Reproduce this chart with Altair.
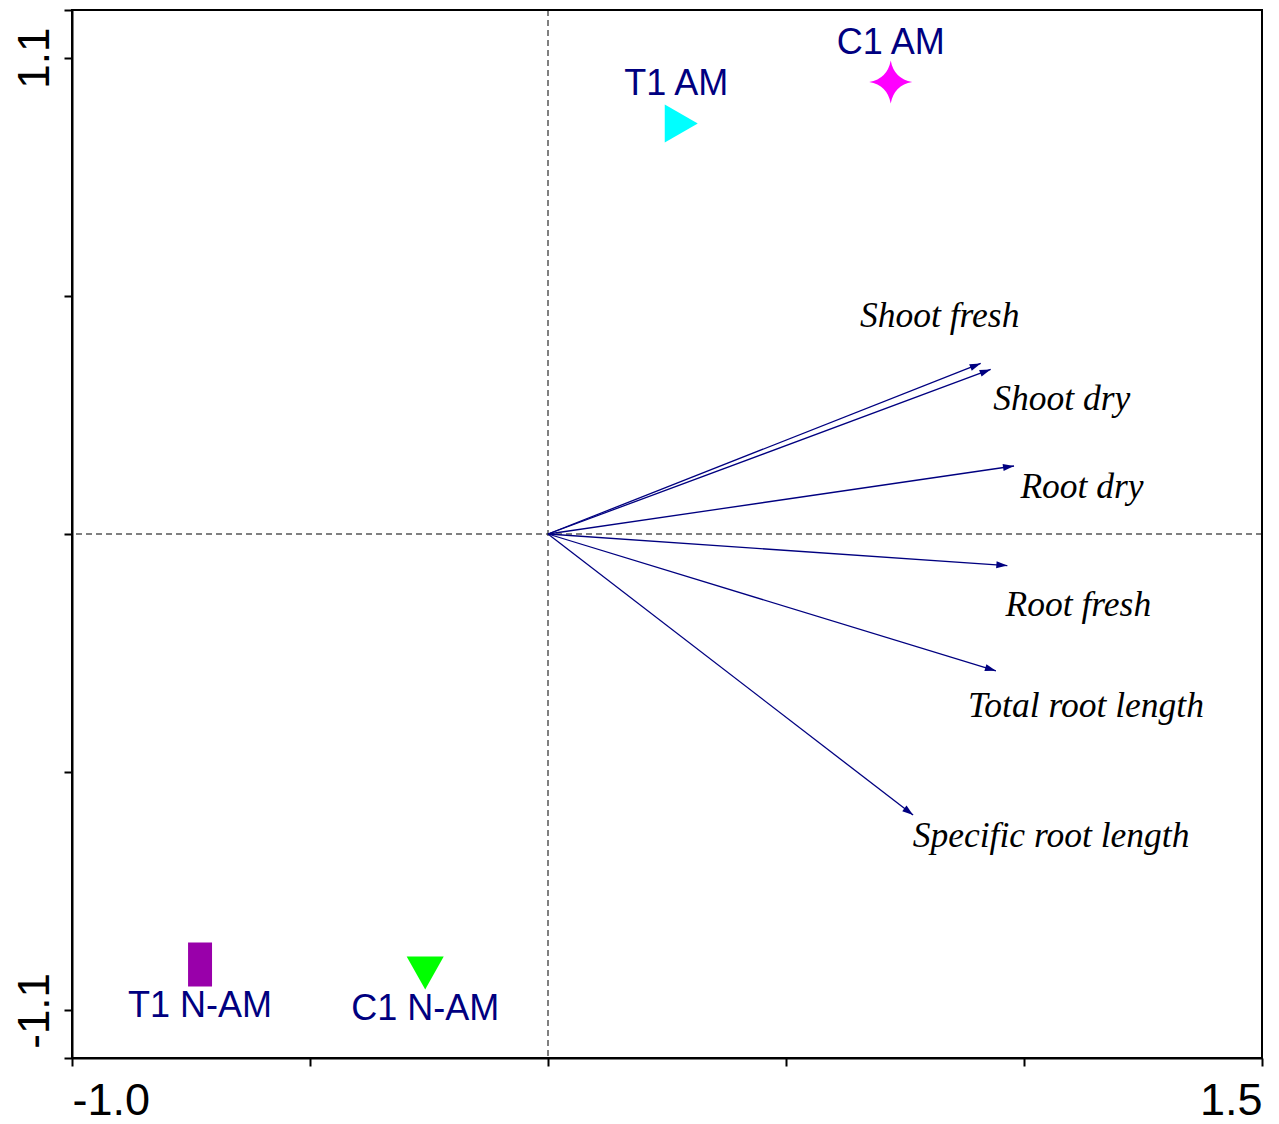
import math
import altair as alt
import pandas as pd

# ---------------- data ----------------
treatments = ["C1 AM", "T1 AM", "T1 N-AM", "C1 N-AM"]
treat_x = [0.720, 0.280, -0.731, -0.258]
treat_y = [1.044, 0.948, -0.994, -1.014]

variables = ["Shoot fresh", "Shoot dry", "Root dry", "Root fresh",
             "Total root length", "Specific root length"]
var_x = [0.909, 0.930, 0.979, 0.965, 0.941, 0.767]
var_y = [0.394, 0.380, 0.157, -0.073, -0.316, -0.649]

x_ticks = [-1.0, -0.5, 0.0, 0.5, 1.0, 1.5]
x_labeled = [-1.0, 1.5]
y_ticks = [-1.21, -1.1, -0.55, 0.0, 0.55, 1.1, 1.21]
y_labeled = [-1.1, 1.1]

X_DOMAIN = [-1.0, 1.5]
Y_DOMAIN = [-1.21, 1.21]

# ---------------- layout / style ----------------
W, H = 1190, 1048
NAVY = "#000080"
NBSP = "\u00a0"
sx = W / (X_DOMAIN[1] - X_DOMAIN[0])
sy = H / (Y_DOMAIN[1] - Y_DOMAIN[0])

treat_colors = ["#FF00FF", "#00FFFF", "#9900AA", "#00FF00"]
treat_shapes = [
    "M0,-0.977Q0.15,-0.15 0.977,0Q0.15,0.15 0,0.977Q-0.15,0.15 -0.977,0Q-0.15,-0.15 0,-0.977Z",
    "M-0.75,-0.864L0.75,0L-0.75,0.864Z",
    "M-0.545,-1L0.545,-1L0.545,1L-0.545,1Z",
    "M-0.841,-0.75L0.841,-0.75L0,0.75Z",
]
treat_label_offset = {
    "C1 AM": (0, -28),
    "T1 AM": (-5, -28),
    "T1 N-AM": (0, 53),
    "C1 N-AM": (0, 47),
}
var_label_offset = {
    "Shoot fresh": (-41, -36),
    "Shoot dry": (71, 41),
    "Root dry": (68, 32),
    "Root fresh": (71, 50),
    "Total root length": (90, 46),
    "Specific root length": (138, 32),
}

treat_df = pd.DataFrame({"name": treatments, "x": treat_x, "y": treat_y})
var_df = pd.DataFrame({"name": variables, "x": var_x, "y": var_y})
var_df["x0"] = 0.0
var_df["y0"] = 0.0
var_df["angle"] = [
    (math.degrees(math.atan2(vx * sx, vy * sy)) + 360.0) % 360.0
    for vx, vy in zip(var_x, var_y)
]
zero_df = pd.DataFrame({"z": [0.0]})


def lab_expr(vals, pad_positive=False):
    cond = " || ".join(f"datum.value == {v}" for v in vals)
    pos = f"'{NBSP}'" if pad_positive else "''"
    return (f"({cond}) ? ((datum.value < 0 ? '-' : {pos}) + "
            f"format(abs(datum.value), '.1f')) : ''")


xscale = alt.Scale(domain=X_DOMAIN, nice=False, zero=False)
yscale = alt.Scale(domain=Y_DOMAIN, nice=False, zero=False)
xaxis = alt.Axis(values=x_ticks, labelExpr=lab_expr(x_labeled), title=None,
                 grid=False, labelFlush=True, labelOverlap=False,
                 labelFontSize=45, labelFont="Liberation Sans",
                 labelColor="black", labelPadding=12, tickSize=8,
                 labelBaseline="top")
yaxis = alt.Axis(values=y_ticks, labelExpr=lab_expr(y_labeled, True), title=None,
                 grid=False, labelOverlap=False, labelAngle=270,
                 labelAlign="center", labelBaseline="alphabetic",
                 labelFontSize=44, labelFont="Liberation Sans",
                 labelColor="black", labelPadding=16, tickSize=8)


def X(field):
    return alt.X(field, type="quantitative", scale=xscale, axis=xaxis)


def Y(field):
    return alt.Y(field, type="quantitative", scale=yscale, axis=yaxis)


vline = alt.Chart(zero_df).mark_rule(
    color="black", strokeWidth=1, strokeDash=[6, 4]).encode(x=X("z"))
hline = alt.Chart(zero_df).mark_rule(
    color="black", strokeWidth=1, strokeDash=[6, 4]).encode(y=Y("z"))

arrows = alt.Chart(var_df).mark_rule(color=NAVY, strokeWidth=1.3).encode(
    x=X("x"), y=Y("y"), x2="x0", y2="y0")
heads = alt.Chart(var_df).mark_point(
    shape="M0,0L-0.32,1L0.32,1Z", filled=True, color=NAVY, opacity=1,
    size=484).encode(
    x=X("x"), y=Y("y"), angle=alt.Angle("angle:Q", scale=None))

layers = [vline, hline, arrows, heads]

for name, (dx, dy) in var_label_offset.items():
    layers.append(
        alt.Chart(var_df).transform_filter(alt.datum.name == name).mark_text(
            font="Liberation Serif", fontStyle="italic", fontSize=35.5,
            color="black", align="center", baseline="alphabetic",
            dx=dx, dy=dy).encode(x=X("x"), y=Y("y"), text="name:N"))

points = alt.Chart(treat_df).mark_point(filled=True, opacity=1, size=1936).encode(
    x=X("x"), y=Y("y"),
    shape=alt.Shape("name:N", scale=alt.Scale(domain=treatments, range=treat_shapes), legend=None),
    color=alt.Color("name:N", scale=alt.Scale(domain=treatments, range=treat_colors), legend=None),
)
layers.append(points)

for name, (dx, dy) in treat_label_offset.items():
    layers.append(
        alt.Chart(treat_df).transform_filter(alt.datum.name == name).mark_text(
            font="Liberation Sans", fontSize=36, color=NAVY, align="center",
            baseline="alphabetic", dx=dx, dy=dy).encode(
            x=X("x"), y=Y("y"), text="name:N"))

chart = alt.layer(*layers).properties(
    width=W, height=H,
    autosize=alt.AutoSizeParams(type="none"),
    padding={"left": 64, "top": 2, "right": 8, "bottom": 66},
).configure_view(
    stroke="black", strokeWidth=2
).configure_axis(
    domainColor="black", domainWidth=2, tickColor="black", tickWidth=2
)

chart.save("out.html", embed_options={"renderer": "svg", "actions": False})
